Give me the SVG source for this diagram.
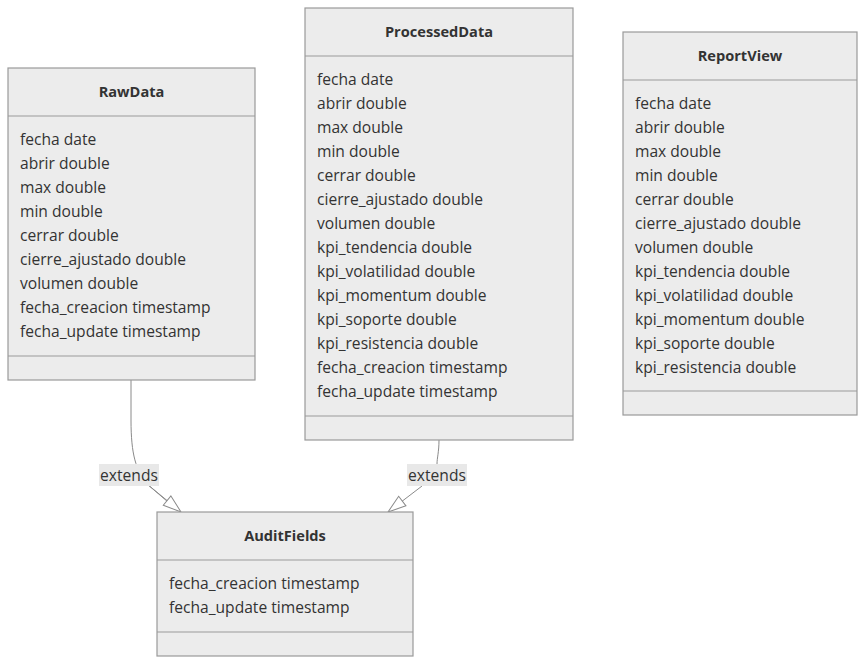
<svg xmlns="http://www.w3.org/2000/svg" width="865" height="665" viewBox="0 0 865 665">
<defs>
<style>
.box{fill:#ececec;stroke:#9a9a9a;stroke-width:1.2}
.div{stroke:#9a9a9a;stroke-width:1.2;fill:none}
.t{font-family:"Open Sans","DejaVu Sans",sans-serif;font-size:15.6px;fill:#333}
.h{font-family:"Open Sans","DejaVu Sans",sans-serif;font-size:14.6px;font-weight:bold;fill:#333;text-anchor:middle}
.edge{fill:none;stroke:#8a8a8a;stroke-width:1}
.lbl{fill:#e8e8e8}
</style>
<marker id="ext" viewBox="0 0 20 20" markerWidth="20" markerHeight="20" refX="19" refY="7" orient="auto" markerUnits="userSpaceOnUse">
<path d="M1,1 L19,7 L1,13 Z" fill="#fff" stroke="#8a8a8a" stroke-width="1"/>
</marker>
</defs>
<rect width="865" height="665" fill="#fff"/>
<g id="connectors">
<path class="edge" d="M131,380 L131,420 C131,455 136,470 147,484 L168,502" />
<path class="edge" d="M147,484 L181,512" marker-end="url(#ext)"/>
<path class="edge" d="M439,440 C439,452 437,458 437,464" />
<path class="edge" d="M422,486 L388,512" marker-end="url(#ext)"/>
<rect class="lbl" x="99" y="464" width="60" height="22"/>
<text class="t" x="129" y="480.5" text-anchor="middle">extends</text>
<rect class="lbl" x="407" y="464" width="60" height="22"/>
<text class="t" x="437" y="480.5" text-anchor="middle">extends</text>
</g>
<g id="RawData">
<rect class="box" x="8" y="68" width="247" height="312"/>
<line class="div" x1="8" y1="116" x2="255" y2="116"/>
<line class="div" x1="8" y1="356" x2="255" y2="356"/>
<text class="h" x="131.5" y="96.5">RawData</text>
<text class="t" x="20" y="144.5">fecha date</text>
<text class="t" x="20" y="168.5">abrir double</text>
<text class="t" x="20" y="192.5">max double</text>
<text class="t" x="20" y="216.5">min double</text>
<text class="t" x="20" y="240.5">cerrar double</text>
<text class="t" x="20" y="264.5">cierre_ajustado double</text>
<text class="t" x="20" y="288.5">volumen double</text>
<text class="t" x="20" y="312.5">fecha_creacion timestamp</text>
<text class="t" x="20" y="336.5">fecha_update timestamp</text>
</g>
<g id="ProcessedData">
<rect class="box" x="305" y="8" width="268" height="432"/>
<line class="div" x1="305" y1="56" x2="573" y2="56"/>
<line class="div" x1="305" y1="416" x2="573" y2="416"/>
<text class="h" x="439" y="36.5">ProcessedData</text>
<text class="t" x="317" y="84.5">fecha date</text>
<text class="t" x="317" y="108.5">abrir double</text>
<text class="t" x="317" y="132.5">max double</text>
<text class="t" x="317" y="156.5">min double</text>
<text class="t" x="317" y="180.5">cerrar double</text>
<text class="t" x="317" y="204.5">cierre_ajustado double</text>
<text class="t" x="317" y="228.5">volumen double</text>
<text class="t" x="317" y="252.5">kpi_tendencia double</text>
<text class="t" x="317" y="276.5">kpi_volatilidad double</text>
<text class="t" x="317" y="300.5">kpi_momentum double</text>
<text class="t" x="317" y="324.5">kpi_soporte double</text>
<text class="t" x="317" y="348.5">kpi_resistencia double</text>
<text class="t" x="317" y="372.5">fecha_creacion timestamp</text>
<text class="t" x="317" y="396.5">fecha_update timestamp</text>
</g>
<g id="ReportView">
<rect class="box" x="623" y="32" width="234" height="383"/>
<line class="div" x1="623" y1="80" x2="857" y2="80"/>
<line class="div" x1="623" y1="391" x2="857" y2="391"/>
<text class="h" x="740" y="60.5">ReportView</text>
<text class="t" x="635" y="108.5">fecha date</text>
<text class="t" x="635" y="132.5">abrir double</text>
<text class="t" x="635" y="156.5">max double</text>
<text class="t" x="635" y="180.5">min double</text>
<text class="t" x="635" y="204.5">cerrar double</text>
<text class="t" x="635" y="228.5">cierre_ajustado double</text>
<text class="t" x="635" y="252.5">volumen double</text>
<text class="t" x="635" y="276.5">kpi_tendencia double</text>
<text class="t" x="635" y="300.5">kpi_volatilidad double</text>
<text class="t" x="635" y="324.5">kpi_momentum double</text>
<text class="t" x="635" y="348.5">kpi_soporte double</text>
<text class="t" x="635" y="372.5">kpi_resistencia double</text>
</g>
<g id="AuditFields">
<rect class="box" x="157" y="512" width="256" height="144"/>
<line class="div" x1="157" y1="560" x2="413" y2="560"/>
<line class="div" x1="157" y1="632" x2="413" y2="632"/>
<text class="h" x="285" y="540.5">AuditFields</text>
<text class="t" x="169" y="588.5">fecha_creacion timestamp</text>
<text class="t" x="169" y="612.5">fecha_update timestamp</text>
</g>
</svg>
